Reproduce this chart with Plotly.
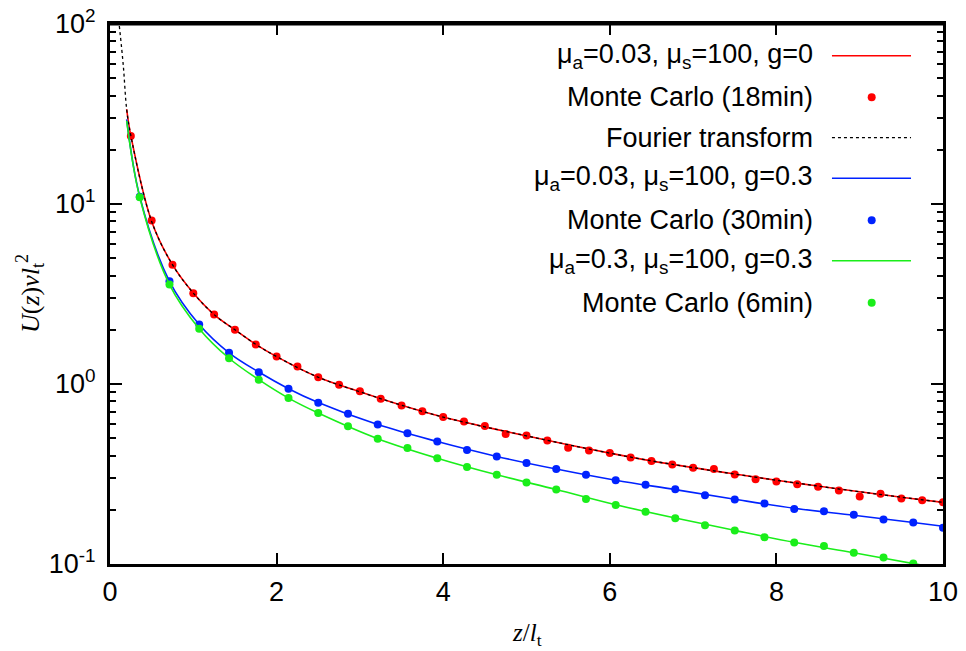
import plotly.graph_objects as go

# theory curves
red_line_x = [0.2, 0.25, 0.5, 0.75, 1.0, 1.25, 1.5, 1.75, 2.0, 2.5, 3.0, 3.5, 4.0, 4.5, 5.0, 5.5, 6.0, 6.5, 7.0, 7.5, 8.0, 8.5, 9.0, 9.5, 10.0]
red_line_y = [33.6, 24.0, 8.0, 4.6, 3.2, 2.43, 2.0, 1.66, 1.42, 1.09, 0.905, 0.762, 0.655, 0.578, 0.515, 0.46, 0.413, 0.374, 0.343, 0.316, 0.292, 0.271, 0.252, 0.235, 0.220]

fourier_x = [0.112, 0.16, 0.2, 0.25, 0.5, 0.75, 1.0, 1.25, 1.5, 1.75, 2.0, 2.5, 3.0, 3.5, 4.0, 4.5, 5.0, 5.5, 6.0, 6.5, 7.0, 7.5, 8.0, 8.5, 9.0, 9.5, 10.0]
fourier_y = [97.5, 58.5, 33.6, 24.0, 8.0, 4.6, 3.2, 2.43, 2.0, 1.66, 1.42, 1.09, 0.905, 0.762, 0.655, 0.578, 0.515, 0.46, 0.413, 0.374, 0.343, 0.316, 0.292, 0.271, 0.252, 0.235, 0.220]

gb_line_x = [0.2, 0.357, 0.714, 1.071, 1.429, 1.786, 2.143, 2.5, 3.214, 3.929, 4.643, 5.357, 6.071, 6.786, 7.5, 8.214, 8.929, 9.643, 10.0]
blue_line_y = [29.5, 11.0, 3.72, 2.14, 1.49, 1.165, 0.942, 0.789, 0.595, 0.479, 0.396, 0.337, 0.292, 0.259, 0.229, 0.204, 0.1865, 0.170, 0.162]
green_line_y = [29.0, 10.9, 3.57, 2.03, 1.39, 1.057, 0.835, 0.690, 0.497, 0.387, 0.313, 0.2594, 0.2135, 0.180, 0.1537, 0.132, 0.1154, 0.1005, 0.094]

# Monte Carlo points
red_mc_x = [0.25, 0.5, 0.75, 1.0, 1.25, 1.5, 1.75, 2.0, 2.25, 2.5, 2.75, 3.0, 3.25, 3.5, 3.75, 4.0, 4.25, 4.5, 4.75, 5.0,
            5.25, 5.5, 5.75, 6.0, 6.25, 6.5, 6.75, 7.0, 7.25, 7.5, 7.75, 8.0, 8.25, 8.5, 8.75, 9.0, 9.25, 9.5, 9.75, 10.0]
red_mc_y = [23.9, 8.1, 4.59, 3.19, 2.43, 2.0, 1.66, 1.42, 1.25, 1.09, 0.99, 0.91, 0.829, 0.76, 0.705, 0.655, 0.618, 0.584, 0.527, 0.517,
            0.485, 0.443, 0.427, 0.414, 0.39, 0.374, 0.357, 0.343, 0.337, 0.314, 0.296, 0.287, 0.277, 0.269, 0.256, 0.237, 0.246, 0.231, 0.226, 0.220]

gb_mc_x = [0.357, 0.714, 1.071, 1.429, 1.786, 2.143, 2.5, 2.857, 3.214, 3.571, 3.929, 4.286, 4.643, 5.0,
           5.357, 5.714, 6.071, 6.429, 6.786, 7.143, 7.5, 7.857, 8.214, 8.571, 8.929, 9.286, 9.643, 10.0]
blue_mc_y = [10.98, 3.72, 2.14, 1.49, 1.164, 0.942, 0.788, 0.684, 0.595, 0.532, 0.479, 0.430, 0.395, 0.364,
             0.337, 0.313, 0.292, 0.276, 0.260, 0.241, 0.228, 0.217, 0.202, 0.1965, 0.1875, 0.1768, 0.170, 0.159]
green_mc_y = [10.9, 3.57, 2.03, 1.392, 1.057, 0.835, 0.690, 0.582, 0.497, 0.441, 0.387, 0.346, 0.313, 0.2836,
              0.2594, 0.230, 0.213, 0.1948, 0.1797, 0.1643, 0.1536, 0.141, 0.1318, 0.1257, 0.1154, 0.1088, 0.1005, 0.094]

legend_labels = [
    "μ<sub>a</sub>=0.03, μ<sub>s</sub>=100, g=0",
    "Monte Carlo (18min)",
    "Fourier transform",
    "μ<sub>a</sub>=0.03, μ<sub>s</sub>=100, g=0.3",
    "Monte Carlo (30min)",
    "μ<sub>a</sub>=0.3, μ<sub>s</sub>=100, g=0.3",
    "Monte Carlo (6min)",
]

RED, BLUE, GREEN = "#ff0000", "#0022ff", "#1aee1a"
SANS = "Liberation Sans"
SERIF = "Liberation Serif"

fig = go.Figure()
fig.add_trace(go.Scatter(x=red_line_x, y=red_line_y, mode="lines", line=dict(color=RED, width=1.6, shape="spline")))
fig.add_trace(go.Scatter(x=red_mc_x, y=red_mc_y, mode="markers", marker=dict(color=RED, size=8)))
fig.add_trace(go.Scatter(x=fourier_x, y=fourier_y, mode="lines", line=dict(color="black", width=1.3, dash="dot", shape="spline")))
fig.add_trace(go.Scatter(x=gb_line_x, y=blue_line_y, mode="lines", line=dict(color=BLUE, width=1.6, shape="spline")))
fig.add_trace(go.Scatter(x=gb_mc_x, y=blue_mc_y, mode="markers", marker=dict(color=BLUE, size=8)))
fig.add_trace(go.Scatter(x=gb_line_x, y=green_line_y, mode="lines", line=dict(color=GREEN, width=1.6, shape="spline")))
fig.add_trace(go.Scatter(x=gb_mc_x, y=green_mc_y, mode="markers", marker=dict(color=GREEN, size=8)))

# gnuplot-style key: right-aligned text with the sample on its right
rows_px = [55.7, 97.3, 137.7, 178.3, 220.3, 260.7, 302.7]
kinds = [("line", RED, "solid"), ("dot", RED, None), ("line", "black", "dot"), ("line", BLUE, "solid"),
         ("dot", BLUE, None), ("line", GREEN, "solid"), ("dot", GREEN, None)]
plot_top, plot_h = 24, 540
for label, row, (kind, color, dash) in zip(legend_labels, rows_px, kinds):
    yp = (plot_top + plot_h - row) / plot_h
    fig.add_annotation(xref="paper", yref="paper", x=0.8463, y=yp, xanchor="right", yanchor="middle",
                       text=label, showarrow=False, font=dict(family=SANS, size=27, color="black"))
    if kind == "line":
        fig.add_shape(type="line", xref="paper", yref="paper", x0=0.8667, x1=0.9616, y0=yp, y1=yp,
                      line=dict(color=color, width=1.6 if dash == "solid" else 1.3, dash=dash))
    else:
        fig.add_shape(type="circle", xref="paper", yref="paper", xsizemode="pixel", ysizemode="pixel",
                      xanchor=0.9144, yanchor=yp, x0=-4, x1=4, y0=-4, y1=4,
                      fillcolor=color, line=dict(color=color, width=0))

# top border of the frame
fig.add_shape(type="line", xref="paper", yref="paper", x0=0, x1=1, y0=1, y1=1, layer="above",
              line=dict(color="black", width=3))

fig.add_annotation(xref="paper", yref="paper", x=0.5, y=-0.13, xanchor="center", yanchor="middle",
                   text="<i>z</i>/<i>l</i><sub>t</sub>", showarrow=False, font=dict(family=SERIF, size=25, color="black"))
fig.add_annotation(xref="paper", yref="paper", x=-0.096, y=0.5, xanchor="center", yanchor="middle", textangle=-90,
                   text="<i>U</i>(<i>z</i>)<i>vl</i><sub>t</sub><sup>2</sup>", showarrow=False,
                   font=dict(family=SERIF, size=26, color="black"))

fig.update_xaxes(range=[0, 10], tickvals=[0, 2, 4, 6, 8, 10], ticks="inside", ticklen=11, tickwidth=2,
                 tickcolor="black", showline=True, linewidth=3, linecolor="black", mirror="ticks",
                 showgrid=False, zeroline=False, ticklabelstandoff=2, automargin=False,
                 tickfont=dict(family=SANS, size=27, color="black"))
fig.update_yaxes(type="log", range=[-1, 2], tickvals=[0.1, 1, 10, 100],
                 ticktext=["10<sup>-1</sup>", "10<sup>0</sup>", "10<sup>1</sup>", "10<sup>2</sup>"],
                 ticks="inside", ticklen=12, tickwidth=2, tickcolor="black", showline=True, linewidth=3,
                 linecolor="black", mirror="ticks", showgrid=False, zeroline=False, ticklabelstandoff=6,
                 automargin=False,
                 minor=dict(ticks="inside", ticklen=6, tickwidth=2, tickcolor="black", dtick="D1", showgrid=False),
                 tickfont=dict(family=SANS, size=27, color="black"))
fig.update_layout(width=966, height=651, margin=dict(l=110, r=23, t=24, b=87), showlegend=False,
                  plot_bgcolor="white", paper_bgcolor="white")
# drop the default 8px body margin so the figure sits at the page origin
fig.write_html("out.html", config={"displayModeBar": False},
               post_script="document.body.style.margin='0px';")
